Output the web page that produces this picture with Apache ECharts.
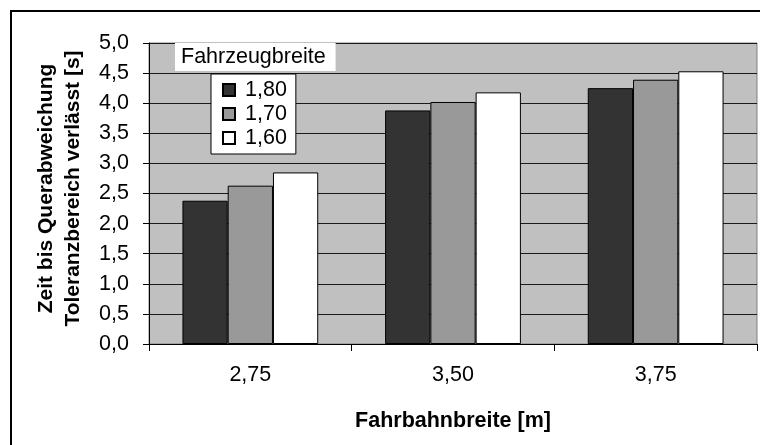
<!DOCTYPE html>
<html>
<head>
<meta charset="utf-8">
<script src="https://cdn.jsdelivr.net/npm/echarts@6/dist/echarts.min.js"></script>
<style>html,body{margin:0;padding:0;background:#fff;}#c{width:760px;height:445px;}</style>
</head>
<body>
<div id="c"></div>
<script>
const categories = ['2,75', '3,50', '3,75'];
const seriesNames = ['1,80', '1,70', '1,60'];
const values180 = [2.38, 3.88, 4.25];
const values170 = [2.63, 4.02, 4.39];
const values160 = [2.85, 4.18, 4.53];
const yTicks = [0, 0.5, 1, 1.5, 2, 2.5, 3, 3.5, 4, 4.5, 5];
const colors = ['#333333', '#999999', '#ffffff'];

const font = '"Liberation Sans", Arial, sans-serif';
const fs = 21.5;
const chart = echarts.init(document.getElementById('c'), null, {renderer: 'canvas'});
const data = [values180, values170, values160];
chart.setOption({
  animation: false,
  backgroundColor: '#ffffff',
  textStyle: {fontFamily: font},
  grid: {left: 149, right: 3, top: 43, bottom: 101, show: true, backgroundColor: '#c0c0c0', borderColor: '#808080', borderWidth: 1},
  title: {
    text: 'Fahrzeugbreite', left: 175, top: 43,
    backgroundColor: '#ffffff', padding: [3, 10, 3, 6],
    textStyle: {fontFamily: font, fontSize: fs, lineHeight: 22, fontWeight: 'normal', color: '#000'}
  },
  legend: {
    orient: 'vertical', left: 211, top: 74,
    data: seriesNames,
    backgroundColor: '#ffffff', borderColor: '#000', borderWidth: 1,
    padding: [5, 9, 5, 11], itemGap: 2, itemWidth: 12, itemHeight: 12,
    icon: 'rect',
    textStyle: {fontFamily: font, fontSize: fs, lineHeight: 22, color: '#000', padding: [0, 0, 0, 5]}
  },
  xAxis: {
    type: 'category', data: categories,
    name: 'Fahrbahnbreite [m]', nameLocation: 'middle', nameGap: 66,
    nameTextStyle: {fontFamily: font, fontSize: fs, fontWeight: 'bold', color: '#000'},
    axisLine: {lineStyle: {color: '#000', width: 1}},
    axisTick: {show: true, length: 7, lineStyle: {color: '#000'}},
    axisLabel: {fontFamily: font, fontSize: fs, color: '#000', margin: 20},
    splitLine: {show: false}
  },
  yAxis: {
    type: 'value', min: yTicks[0], max: yTicks[yTicks.length - 1], interval: 0.5,
    name: 'Zeit bis Querabweichung\nToleranzbereich verlässt [s]',
    nameLocation: 'middle', nameGap: 62, nameRotate: 90,
    nameTextStyle: {fontFamily: font, fontSize: 21, fontWeight: 'bold', color: '#000', lineHeight: 27, padding: [0, 0, 0, 10]},
    axisLine: {show: true, lineStyle: {color: '#000', width: 1}},
    axisTick: {show: true, length: 6, lineStyle: {color: '#000'}},
    axisLabel: {fontFamily: font, fontSize: fs, color: '#000', margin: 20,
      formatter: v => v.toFixed(1).replace('.', ',')},
    splitLine: {show: true, lineStyle: {color: '#1a1a1a', width: 1}}
  },
  series: seriesNames.map((n, i) => ({
    name: n, type: 'bar', data: data[i],
    barGap: '0%', barCategoryGap: '33%',
    itemStyle: {color: colors[i], borderColor: '#000', borderWidth: 1}
  })),
  graphic: [{
    type: 'rect', shape: {x: 11, y: 11, width: 800, height: 500},
    style: {fill: 'none', stroke: '#000', lineWidth: 2}, silent: true, z: 100
  }]
});
</script>
</body>
</html>
